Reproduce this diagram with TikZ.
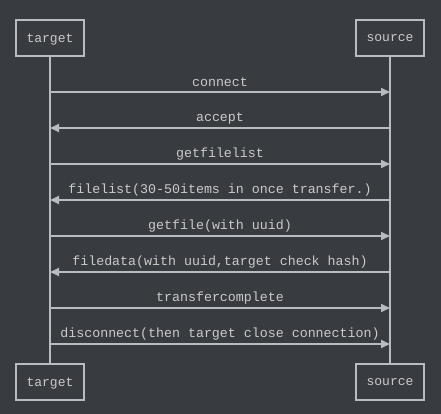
\documentclass[tikz,border=0pt]{standalone}
\usepackage{fontspec}
\setmonofont{Liberation Mono}
\usetikzlibrary{arrows.meta}
\definecolor{bgc}{HTML}{383B40}
\definecolor{fgc}{HTML}{B8BBBF}
\definecolor{txc}{HTML}{CACACA}
\begin{document}
\begin{tikzpicture}[x=1pt,y=-1pt,
  actor/.style={draw=fgc,line width=2pt,minimum width=68pt,minimum height=36pt,inner sep=0pt,text=txc,font=\ttfamily\fontsize{13}{15}\selectfont,text depth=0pt},
  life/.style={draw=fgc,line width=2pt},
  msg/.style={draw=fgc,line width=2pt,-{Triangle[length=9pt,width=8pt]}},
  lbl/.style={text=txc,font=\ttfamily\fontsize{13.3}{15}\selectfont,inner sep=0pt}]
\fill[bgc] (0,0) rectangle (441,414);
\useasboundingbox (0,0) rectangle (441,414);
\node[actor] (t1) at (50,38) {target};
\node[actor] (s1) at (390,38) {source};
\node[actor] (t2) at (50,382) {target};
\node[actor] (s2) at (390,382) {source};
\draw[life] (t1) -- (t2);
\draw[life] (s1) -- (s2);
\foreach \y/\d/\t [count=\i] in {
  92/r/connect,
  128/l/accept,
  164/r/getfilelist,
  200/l/{filelist(30-50items in once transfer.)},
  236/r/{getfile(with uuid)},
  272/l/{filedata(with uuid,target check hash)},
  308/r/transfercomplete,
  344/r/{disconnect(then target close connection)}}{
  \coordinate (L\i) at (50,\y);
  \coordinate (R\i) at (390,\y);
  \node[lbl] (m\i) at (220,\y-10) {\t};
  \if r\d
    \draw[msg] (L\i) -- (R\i);
  \else
    \draw[msg] (R\i) -- (L\i);
  \fi
}
\end{tikzpicture}
\end{document}
